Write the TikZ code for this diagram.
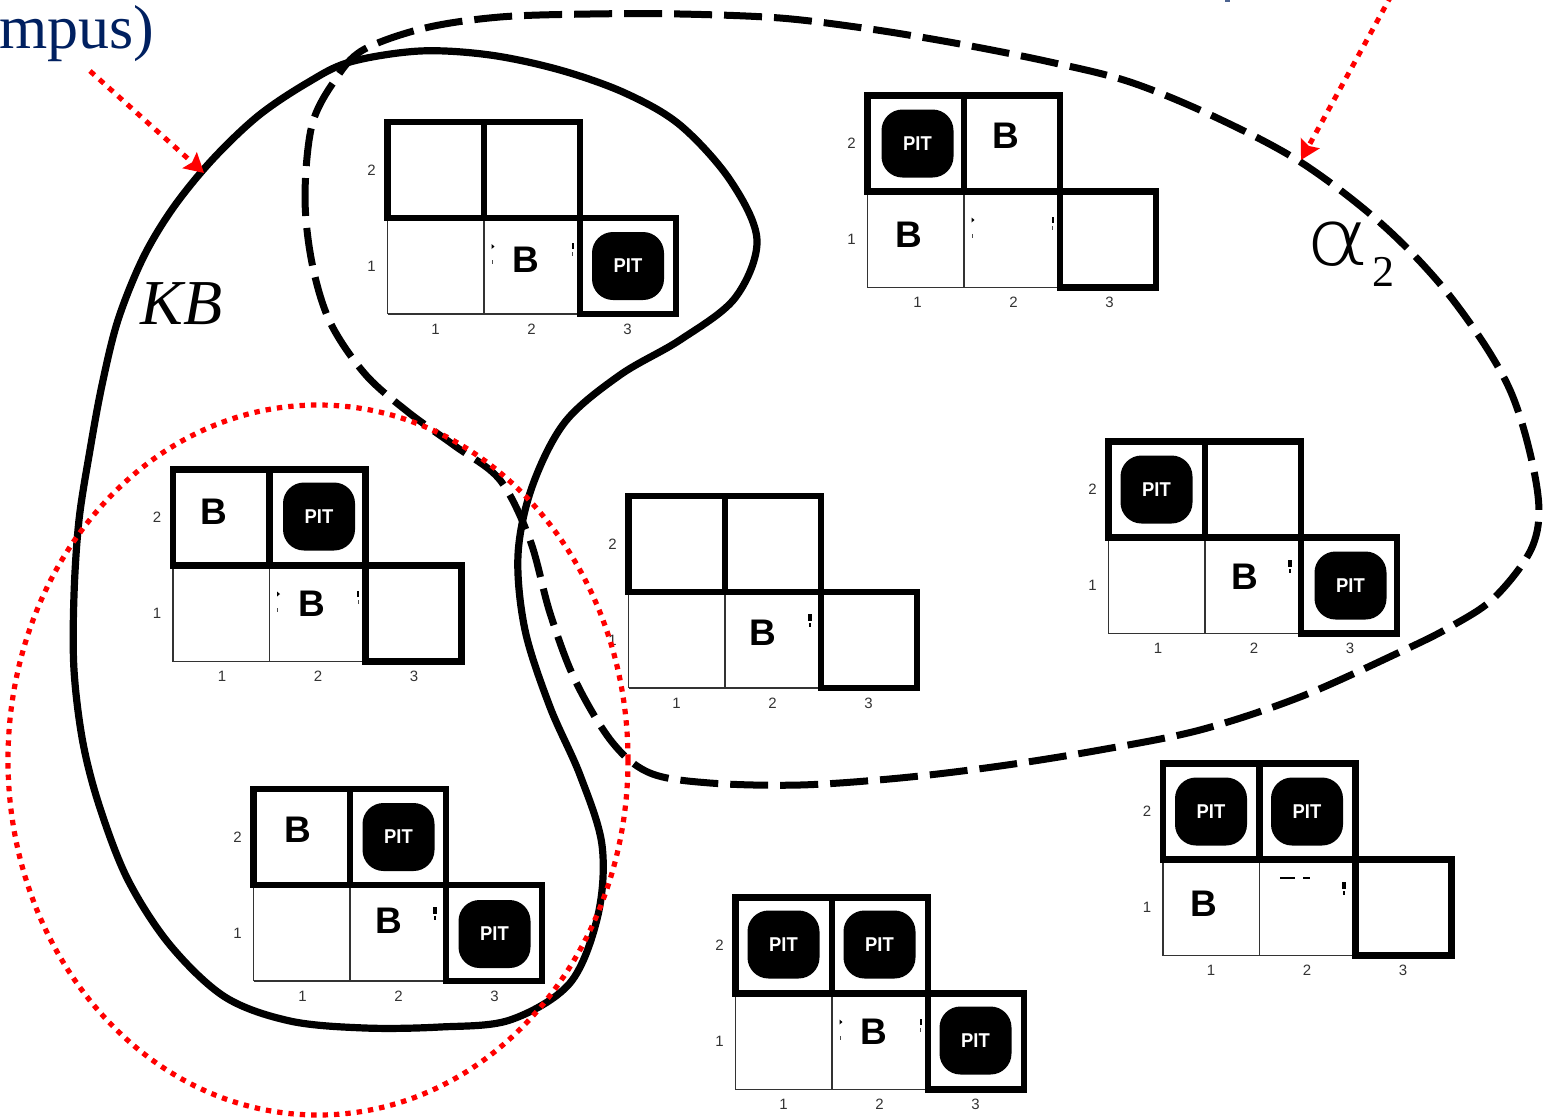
\documentclass[tikz,border=0pt]{standalone}
\usepackage{fontspec}
\setmainfont{Liberation Serif}
\newfontfamily\arialfont{Liberation Sans}
\newfontfamily\thinfont{DejaVu Sans ExtraLight}
\usetikzlibrary{arrows.meta}
\definecolor{titleblue}{HTML}{002060}
\definecolor{ptred}{HTML}{FF0000}
\tikzset{
  x=1pt,y=-1pt,
  boldcell/.style={draw=black,line width=6.8pt,line join=miter},
  thincell/.style={draw=black!80,line width=1.2pt},
  axislab/.style={font=\arialfont\fontsize{15}{15}\selectfont,text=black!80,inner sep=0pt},
  pitbox/.style={fill=black,rounded corners=21pt,minimum width=72pt,minimum height=68pt,inner sep=0pt,
    font=\arialfont\bfseries\fontsize{20}{20}\selectfont,text=white},
  breeze/.style={font=\arialfont\bfseries\fontsize{37}{37}\selectfont,text=black,inner sep=0pt},
  kbline/.style={draw=black,line width=7.2pt,line join=round},
  alphaline/.style={draw=black,line width=7pt,dash pattern=on 38pt off 12pt,line join=round},
  redarrow/.style={draw=ptred,line width=5pt,dash pattern=on 6pt off 6.5pt,
    -{Stealth[length=19pt,width=21pt,inset=3pt]}},
  redring/.style={draw=ptred,line width=5.2pt,dash pattern=on 5.4pt off 6pt},
}
% #1 name, #2 x, #3 y, #4 column-label shift, #5 content
\newcommand\wgrid[5]{%
  \begin{scope}[shift={(#2,#3)},name prefix=#1-]
    \draw[thincell] (0,192) -- (0,96) (0,192) -- (193,192) (96.5,96) -- (96.5,192);
    \draw[boldcell] (0,0) rectangle (96.5,96);
    \draw[boldcell] (96.5,0) rectangle (192.5,96);
    \draw[boldcell] (192.5,96) rectangle (288.5,192);
    \node[axislab] (r2) at (-16,48) {2};
    \node[axislab] (r1) at (-16,144) {1};
    \node[axislab] (c1) at (48+#4,207) {1};
    \node[axislab] (c2) at (144+#4,207) {2};
    \node[axislab] (c3) at (240+#4,207) {3};
    #5
  \end{scope}}
\newcommand\pit[3]{\node[pitbox] (#1) at (#2,#3) {\scalebox{0.92}[1]{PIT}};}
\newcommand\bee[3]{\node[breeze] (#1) at (#2,#3) {B};}
\newcommand\speckL{\fill[black] (104,122) -- (104,127) -- (107,124.5) -- cycle; \fill[black!70] (104,138) rectangle (105,142);}
\newcommand\speckR{\fill[black] (184,121) rectangle (186,127); \fill[black!70] (184.5,130) rectangle (185.5,134);}
\newcommand\speckBig{\fill[black] (179,118) rectangle (183,125); \fill[black] (180,127) rectangle (182,131);}
\begin{document}
\begin{tikzpicture}
\useasboundingbox (0,0) rectangle (1546,1117);
\fill[white] (0,0) rectangle (1546,1117);

% title fragments
\node[anchor=base west,inner sep=0pt,text=titleblue,font=\fontsize{62}{62}\selectfont] (title) at (-1,48) {mpus)};
\fill[titleblue!70] (1225,0) rectangle (1230,1.5);

% alpha2 curve
\draw[alphaline] plot[smooth cycle,tension=0.55] coordinates {
 (363,50) (425,28) (500,17) (590,14) (680,14) (780,18) (870,29) (960,44) (1050,62) (1130,82) (1215,117) (1302,163)
 (1385,227) (1453,300) (1510,390) (1537,488) (1533,545) (1495,597) (1450,627) (1400,652) (1300,697) (1200,730) (1100,750)
 (1000,766) (900,778) (800,785) (710,783) (650,773) (612,742) (575,680) (550,613) (530,540) (500,480)
 (455,446) (408,412) (365,374) (330,322) (312,263) (305,197) (312,125) (335,80)};

% KB curve
\draw[kbline] plot[smooth cycle,tension=0.55] coordinates {
 (350,62) (420,51) (490,55) (560,70) (625,93) (680,125) (730,180) (757,240) (735,298) (680,340) (620,375)
 (565,422) (532,487) (518,555) (525,630) (550,707) (580,775) (602,845) (598,915) (570,983) (510,1020)
 (440,1027) (365,1028) (290,1021) (225,997) (170,945) (128,880) (100,808) (83,743) (74,670) (74,595)
 (79,520) (90,450) (102,385) (118,320) (143,258) (173,208) (212,160) (258,116) (307,83)};

\wgrid{ga}{387.5}{122}{0}{\pit{p31}{240.5}{144}\bee{b21}{138}{138}\speckL\speckR}
\wgrid{gb}{867.5}{95.5}{2}{\pit{p12}{50}{48}\bee{b22}{138}{40}\bee{b11}{41}{139}\speckL\speckR}
\wgrid{gc}{173}{469.5}{1}{\pit{p22}{146}{47}\bee{b12}{41}{42}\bee{b21}{139}{134}\speckL\speckR}
\wgrid{gd}{253.5}{789}{1}{\pit{p22}{145}{48}\pit{p31}{241}{145}\bee{b12}{44}{41}\bee{b21}{135}{132}\speckBig}
\wgrid{ge}{628.5}{496}{0}{\bee{b21}{134}{137}\speckBig}
\wgrid{gf}{1108.5}{441.5}{1.5}{\pit{p12}{48}{48}\pit{p31}{242}{144}\bee{b21}{136}{135}\speckBig}
\wgrid{gg}{1163}{763.5}{0}{\pit{p12}{48}{48}\pit{p22}{144}{48}\bee{b11}{41}{140}\speckBig\fill[black] (117,113) rectangle (132,115.5); \fill[black] (140,113) rectangle (147,115);}
\wgrid{gh}{735.5}{897.5}{0}{\pit{p12}{48}{47}\pit{p22}{144}{47}\pit{p31}{240}{143}\bee{b21}{138}{134}\speckL\speckR}

% labels
\node[inner sep=0pt,font=\itshape\fontsize{64}{64}\selectfont] (kb) at (181.5,304) {KB};
\node[inner sep=0pt,xscale=1.25,font=\thinfont\fontsize{78}{78}\selectfont] (alpha) at (1338,244) {α};
\node[inner sep=0pt,font=\fontsize{44}{44}\selectfont] (two) at (1383,272) {2};

% red pointers
\coordinate (kbfrom) at (90,71);
\coordinate (kbto) at (204,173);
\coordinate (alfrom) at (1391,-4);
\coordinate (alto) at (1301,160);
\draw[redarrow] (kbfrom) -- (kbto);
\draw[redarrow] (alfrom) -- (alto);

% red ring
\draw[redring] (318,760) ellipse [x radius=310,y radius=355];
\end{tikzpicture}
\end{document}
